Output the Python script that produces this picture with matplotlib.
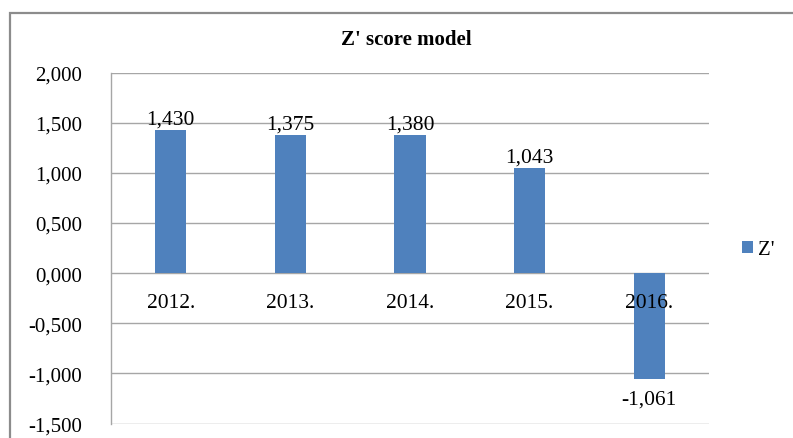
import matplotlib
matplotlib.use("Agg")
import matplotlib.pyplot as plt
from matplotlib.patches import Rectangle
from matplotlib.ticker import FuncFormatter, MultipleLocator

categories = ["2012.", "2013.", "2014.", "2015.", "2016."]
values = [1.430, 1.375, 1.380, 1.043, -1.061]
series_name = "Z'"
title = "Z' score model"

def fmt(v):
    return f"{v:.3f}".replace(".", ",")

plt.rcParams['font.family'] = ['Liberation Serif', 'DejaVu Serif']

W, H = 793, 439
fig = plt.figure(figsize=(W / 100, H / 100), dpi=100)

# outer chart border
fig.patches.append(Rectangle((10 / W, -0.1), 1.2, 1 - 14 / H + 0.1, transform=fig.transFigure,
                             fill=False, edgecolor="#8c8c8c", linewidth=1.6))

ax = fig.add_axes([111 / W, 1 - 424.5 / H, (709 - 111) / W, (424.5 - 73.5) / H])
x = list(range(len(categories)))
bars = ax.bar(x, values, width=0.26, color="#4F81BD", zorder=3, label=series_name)

ax.set_xlim(-0.5, len(categories) - 0.5)
ax.set_ylim(-1.5, 2.0)
ax.yaxis.set_major_locator(MultipleLocator(0.5))
ax.yaxis.set_major_formatter(FuncFormatter(lambda v, p: fmt(v)))
ax.grid(axis="y", color="#a6a6a6", linewidth=1.0, zorder=0)
ax.set_axisbelow(True)
for s in ["top", "right", "bottom"]:
    ax.spines[s].set_visible(False)
ax.spines["left"].set_color("#a6a6a6")
ax.spines["left"].set_linewidth(1.0)
ax.set_xticks([])
ax.tick_params(axis="y", length=0, pad=21, labelsize=15)

for i, (c, v) in enumerate(zip(categories, values)):
    ax.annotate(c, xy=(i, 0), xytext=(0, -29), textcoords="offset pixels",
                ha="center", va="center", fontsize=15.5)
    off = 11 if v >= 0 else -20
    ax.annotate(fmt(v), xy=(i, v), xytext=(0, off), textcoords="offset pixels",
                ha="center", va="center", fontsize=15.5, zorder=4)

fig.text(406 / W, 1 - 40 / H, title, ha="center", va="center", fontsize=15, fontweight="bold")

fig.legend(loc="center left", bbox_to_anchor=(742 / W, 1 - 251 / H), frameon=False,
           borderaxespad=0, borderpad=0,
           fontsize=15, handlelength=0.55, handleheight=0.55, handletextpad=0.2)

fig.savefig("out.png", dpi=100)
